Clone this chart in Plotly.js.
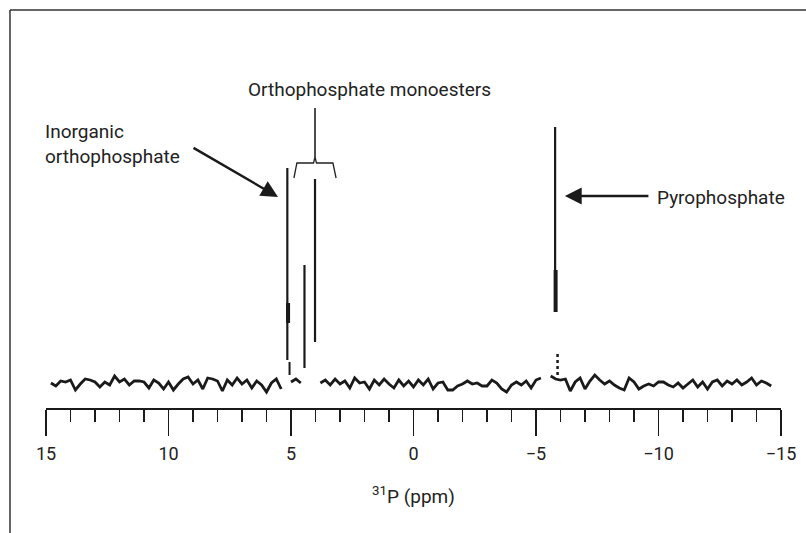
<!DOCTYPE html>
<html>
<head>
<meta charset="utf-8">
<script src="https://cdn.plot.ly/plotly-3.0.1.min.js"></script>
<style>
html,body{margin:0;padding:0;background:#fff;}
#chart{width:806px;height:533px;}
</style>
</head>
<body>
<div id="chart"></div>
<script>
// ---- data ----
// baseline noise, sampled every 0.2 ppm starting at 14.8 ppm (intensity in arbitrary units)
const noiseStart = 14.8;
const noiseStep = -0.2;
const noiseValues = [
  2, -1, 4, 3, 5, -5, 1, 6, 5, 3,
  -2, 3, 0, 9, 3, 6, 0, 4, 4, 3,
  -3, 5, 2, -4, 3, -5, 1, 6, 8, 1,
  5, -4, 7, 6, 4, -6, 5, 0, 7, 1,
  5, -3, 4, 0, -7, 2, 6, -4, null, 3,
  6, 2, null, null, null, 2, 5, 0, 6, 1,
  4, -3, 7, 2, 3, -4, 5, 0, 6, 1,
  -3, 5, -1, 4, -2, 5, 0, 6, -4, 2,
  3, -5, -5, -1, 1, 4, 1, 2, -1, -1,
  5, 2, -4, -7, 0, 3, 0, 4, -3, 5,
  7, null, 9, 6, 5, 6, -6, 3, 7, -4,
  4, 10, 5, 1, 4, 0, -3, -5, 7, 3,
  -4, -1, 1, -1, 3, 3, 0, -2, 2, -3,
  1, 5, -2, 3, -4, 3, 5, -1, 4, 1,
  5, 0, 3, 7, 0, 4, 2, -1
];

// resonance lines: position (ppm), lower and upper intensity of each drawn line
const peakNames = ["Inorganic orthophosphate", "Monoester 1", "Monoester 2", "Pyrophosphate"];
const peakPpm   = [5.15, 4.45, 4.02, -5.78];
const peakLow   = [25, 17, 43, 73];
const peakHigh  = [217, 120, 206, 258];

// thicker lower portions of lines
const thickPpm  = [5.12, -5.80];
const thickLow  = [62, 73];
const thickHigh = [82, 115];

// short fragments below lines
const fragPpm  = [5.06];
const fragLow  = [10];
const fragHigh = [23];

// dotted trace below pyrophosphate
const dotPpm  = [-5.88];
const dotLow  = [10];
const dotHigh = [33];

const xTickVals = [15, 10, 5, 0, -5, -10, -15];
const xTickText = ["15", "10", "5", "0", "\u22125", "\u221210", "\u221215"];

// ---- build traces ----
const noiseX = noiseValues.map((v, i) => +(noiseStart + i * noiseStep).toFixed(2));

function segs(xs, lo, hi) {
  const X = [], Y = [];
  xs.forEach((x, i) => { X.push(x, x, null); Y.push(lo[i], hi[i], null); });
  return {X, Y};
}
const pk = segs(peakPpm, peakLow, peakHigh);
const th = segs(thickPpm, thickLow, thickHigh);
const fr = segs(fragPpm, fragLow, fragHigh);
const dt = segs(dotPpm, dotLow, dotHigh);

const FONT = "Roboto, 'Liberation Sans', sans-serif";
const INK = '#1a1a1a';
const TXT = '#222';

const traces = [
  {x: noiseX, y: noiseValues, mode: 'lines', line: {color: INK, width: 2.8},
   connectgaps: false, hoverinfo: 'skip', showlegend: false},
  {x: pk.X, y: pk.Y, mode: 'lines', line: {color: INK, width: 2.2}, hoverinfo: 'skip', showlegend: false},
  {x: th.X, y: th.Y, mode: 'lines', line: {color: INK, width: 4}, hoverinfo: 'skip', showlegend: false},
  {x: fr.X, y: fr.Y, mode: 'lines', line: {color: INK, width: 2}, hoverinfo: 'skip', showlegend: false},
  {x: dt.X, y: dt.Y, mode: 'lines', line: {color: INK, width: 2.5, dash: 'dot'}, hoverinfo: 'skip', showlegend: false}
];

const layout = {
  width: 806, height: 533,
  margin: {l: 46, r: 25, t: 20, b: 125},
  paper_bgcolor: '#fff', plot_bgcolor: '#fff',
  font: {family: FONT, size: 19, color: TXT},
  xaxis: {
    range: [15, -15], showgrid: false, zeroline: false,
    showline: true, linecolor: INK, linewidth: 1.5,
    ticks: 'outside', ticklen: 26, tickwidth: 1.5, tickcolor: INK,
    tickvals: xTickVals, ticktext: xTickText,
    tickfont: {family: FONT, size: 18, color: TXT},
    ticklabelstandoff: 3,
    minor: {dtick: 1, ticks: 'outside', ticklen: 12, tickwidth: 1.5, tickcolor: INK, showgrid: false},
    title: {text: '<sup>31</sup>P (ppm)', font: {family: FONT, size: 19, color: TXT}, standoff: 26},
    fixedrange: true
  },
  yaxis: {range: [-23, 365], visible: false, fixedrange: true},
  shapes: [
    // frame
    {type: 'line', xref: 'paper', yref: 'paper', x0: -0.049, x1: -0.049, y0: 1.0258, y1: -0.4, line: {color: '#333', width: 1.5}},
    {type: 'line', xref: 'paper', yref: 'paper', x0: -0.049, x1: 1.1, y0: 1.0258, y1: 1.0258, line: {color: '#333', width: 1.5}},
    // monoester bracket
    {type: 'path', xref: 'x', yref: 'y',
     path: 'M 4.88 207 L 4.76 222 L 4.08 222 L 4.02 228 L 3.96 222 L 3.29 222 L 3.16 207',
     line: {color: TXT, width: 1.3}},
    {type: 'line', xref: 'x', yref: 'y', x0: 4.02, x1: 4.02, y0: 228, y1: 277, line: {color: TXT, width: 1.6}}
  ],
  annotations: [
    {x: 6.84, y: 296, xref: 'x', yref: 'y', text: 'Orthophosphate monoesters', showarrow: false,
     xanchor: 'left', yanchor: 'middle', font: {family: FONT, size: 19, color: TXT}},
    {x: 0, xshift: -3, y: 241, xref: 'paper', yref: 'y', text: 'Inorganic<br>orthophosphate', showarrow: false,
     xanchor: 'left', yanchor: 'middle', align: 'left', font: {family: FONT, size: 19, color: TXT}},
    {x: 5.53, y: 188, xref: 'x', yref: 'y', text: '', showarrow: true, ax: -86, ay: -50,
     arrowhead: 2, arrowsize: 1.4, arrowwidth: 2.4, arrowcolor: INK},
    {x: -6.18, y: 189, xref: 'x', yref: 'y', text: '', showarrow: true, ax: 85, ay: 0,
     arrowhead: 2, arrowsize: 1.4, arrowwidth: 2.4, arrowcolor: INK},
    {x: -9.86, y: 188, xref: 'x', yref: 'y', text: 'Pyrophosphate', showarrow: false,
     xanchor: 'left', yanchor: 'middle', font: {family: FONT, size: 19, color: TXT}}
  ]
};

Plotly.newPlot('chart', traces, layout, {staticPlot: true, displayModeBar: false});
</script>
</body>
</html>
